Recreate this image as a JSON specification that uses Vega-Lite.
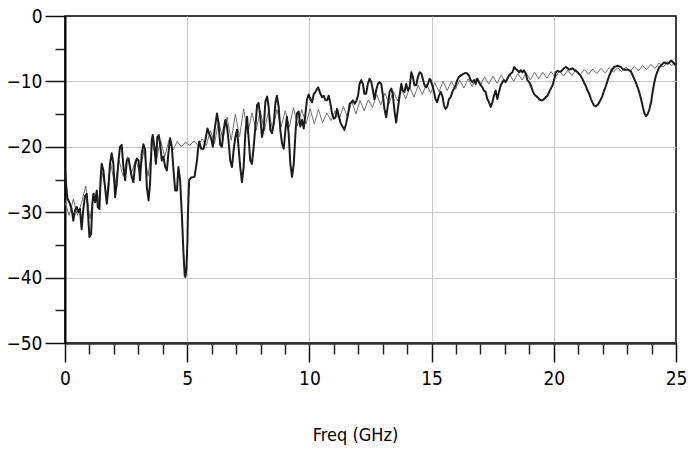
{
  "$schema": "https://vega.github.io/schema/vega-lite/v6.json",
  "width": 611,
  "height": 327,
  "autosize": "none",
  "padding": {"left": 65, "top": 16, "right": 24, "bottom": 106},
  "background": "white",
  "config": {
    "view": {"stroke": "#000000", "strokeWidth": 1.5},
    "axis": {
      "labelFont": "Liberation Sans Narrow, DejaVu Sans Condensed, sans-serif",
      "titleFont": "Liberation Sans Narrow, DejaVu Sans Condensed, sans-serif",
      "labelColor": "#000000",
      "titleColor": "#000000",
      "labelFontSize": 19,
      "titleFontSize": 18,
      "titleFontWeight": "normal",
      "labelFlush": false,
      "labelOverlap": false
    }
  },
  "datasets": {
    "measured": [
      {"f":0,"db":-23.5},{"f":0.05,"db":-26},{"f":0.10,"db":-27.9},{"f":0.18,"db":-28.5},{"f":0.27,"db":-29.5},{"f":0.34,"db":-31.3},{"f":0.41,"db":-29.7},{"f":0.48,"db":-29.2},{"f":0.55,"db":-30.0},{"f":0.61,"db":-29.5},{"f":0.68,"db":-32.6},{"f":0.75,"db":-29.5},{"f":0.82,"db":-27.5},{"f":0.89,"db":-27.2},{"f":0.96,"db":-31.3},{"f":1.00,"db":-33.8},{"f":1.07,"db":-33.3},{"f":1.12,"db":-28.7},{"f":1.16,"db":-27.2},{"f":1.23,"db":-28.5},{"f":1.30,"db":-26.7},{"f":1.34,"db":-29.2},{"f":1.41,"db":-29.5},{"f":1.46,"db":-24.6},{"f":1.50,"db":-22.6},{"f":1.57,"db":-23.6},{"f":1.64,"db":-26.2},{"f":1.71,"db":-28.7},{"f":1.78,"db":-26.2},{"f":1.84,"db":-22.6},{"f":1.91,"db":-21.0},{"f":1.98,"db":-22.6},{"f":2.05,"db":-27.7},{"f":2.12,"db":-25.6},{"f":2.19,"db":-22.1},{"f":2.25,"db":-20.0},{"f":2.32,"db":-19.7},{"f":2.39,"db":-23.1},{"f":2.46,"db":-25.1},{"f":2.53,"db":-22.1},{"f":2.60,"db":-21.8},{"f":2.66,"db":-23.1},{"f":2.73,"db":-24.6},{"f":2.80,"db":-25.4},{"f":2.87,"db":-22.6},{"f":2.94,"db":-21.8},{"f":3.01,"db":-22.1},{"f":3.07,"db":-25.1},{"f":3.14,"db":-21.0},{"f":3.21,"db":-19.6},{"f":3.28,"db":-20.5},{"f":3.35,"db":-26.2},{"f":3.42,"db":-28.2},{"f":3.48,"db":-25.6},{"f":3.55,"db":-19.0},{"f":3.59,"db":-18.2},{"f":3.66,"db":-20.0},{"f":3.72,"db":-22.6},{"f":3.78,"db":-18.5},{"f":3.84,"db":-18.2},{"f":3.89,"db":-19.5},{"f":3.96,"db":-22.1},{"f":4.03,"db":-21.5},{"f":4.10,"db":-23.1},{"f":4.17,"db":-23.6},{"f":4.23,"db":-21.0},{"f":4.30,"db":-18.7},{"f":4.37,"db":-20.0},{"f":4.44,"db":-23.6},{"f":4.51,"db":-26.7},{"f":4.58,"db":-26.7},{"f":4.64,"db":-23.1},{"f":4.71,"db":-25.1},{"f":4.78,"db":-30.3},{"f":4.85,"db":-36.4},{"f":4.90,"db":-39.8},{"f":4.93,"db":-39.9},{"f":4.97,"db":-38.5},{"f":5.01,"db":-34.4},{"f":5.03,"db":-30.3},{"f":5.08,"db":-25.1},{"f":5.16,"db":-24.7},{"f":5.30,"db":-24.6},{"f":5.40,"db":-22.1},{"f":5.44,"db":-20.5},{"f":5.49,"db":-19.2},{"f":5.57,"db":-20.3},{"f":5.67,"db":-20.3},{"f":5.74,"db":-19.0},{"f":5.83,"db":-17.2},{"f":5.90,"db":-18.0},{"f":5.98,"db":-18.7},{"f":6.05,"db":-20.0},{"f":6.12,"db":-17.4},{"f":6.22,"db":-14.9},{"f":6.28,"db":-16.4},{"f":6.35,"db":-19.7},{"f":6.42,"db":-20.0},{"f":6.49,"db":-17.4},{"f":6.56,"db":-15.9},{"f":6.63,"db":-16.9},{"f":6.69,"db":-19.0},{"f":6.76,"db":-22.1},{"f":6.83,"db":-23.1},{"f":6.90,"db":-20.5},{"f":6.97,"db":-18.5},{"f":7.04,"db":-17.4},{"f":7.10,"db":-20.0},{"f":7.17,"db":-23.1},{"f":7.24,"db":-25.4},{"f":7.31,"db":-23.1},{"f":7.38,"db":-17.9},{"f":7.45,"db":-15.4},{"f":7.51,"db":-18.5},{"f":7.58,"db":-22.1},{"f":7.65,"db":-22.6},{"f":7.72,"db":-20.0},{"f":7.79,"db":-16.9},{"f":7.86,"db":-13.6},{"f":7.92,"db":-13.3},{"f":7.99,"db":-15.4},{"f":8.06,"db":-18.5},{"f":8.13,"db":-17.2},{"f":8.20,"db":-13.1},{"f":8.27,"db":-12.3},{"f":8.33,"db":-13.8},{"f":8.40,"db":-17.4},{"f":8.47,"db":-17.9},{"f":8.54,"db":-16.4},{"f":8.61,"db":-13.3},{"f":8.67,"db":-12.2},{"f":8.74,"db":-13.8},{"f":8.81,"db":-17.4},{"f":8.88,"db":-19.5},{"f":8.95,"db":-20.3},{"f":9.02,"db":-17.4},{"f":9.08,"db":-15.4},{"f":9.15,"db":-17.9},{"f":9.22,"db":-22.6},{"f":9.29,"db":-24.6},{"f":9.36,"db":-22.6},{"f":9.43,"db":-17.9},{"f":9.49,"db":-14.9},{"f":9.56,"db":-14.6},{"f":9.63,"db":-16.9},{"f":9.70,"db":-15.9},{"f":9.77,"db":-17.2},{"f":9.84,"db":-14.9},{"f":9.90,"db":-12.8},{"f":9.97,"db":-12.0},{"f":10.04,"db":-12.7},{"f":10.11,"db":-13.2},{"f":10.18,"db":-11.9},{"f":10.25,"db":-11.6},{"f":10.36,"db":-10.9},{"f":10.45,"db":-11.9},{"f":10.52,"db":-12.4},{"f":10.59,"db":-12.2},{"f":10.66,"db":-12.9},{"f":10.72,"db":-12.9},{"f":10.79,"db":-12.2},{"f":10.86,"db":-13.4},{"f":10.93,"db":-15.0},{"f":11.00,"db":-15.7},{"f":11.07,"db":-15.5},{"f":11.13,"db":-14.2},{"f":11.20,"db":-15.2},{"f":11.27,"db":-16.3},{"f":11.34,"db":-16.8},{"f":11.43,"db":-17.4},{"f":11.50,"db":-16.5},{"f":11.58,"db":-15.0},{"f":11.65,"db":-13.4},{"f":11.72,"db":-13.2},{"f":11.78,"db":-12.9},{"f":11.86,"db":-13.4},{"f":11.93,"db":-12.9},{"f":11.99,"db":-12.2},{"f":12.05,"db":-10.4},{"f":12.12,"db":-9.8},{"f":12.19,"db":-10.4},{"f":12.25,"db":-11.9},{"f":12.32,"db":-11.9},{"f":12.39,"db":-10.4},{"f":12.46,"db":-9.6},{"f":12.53,"db":-10.1},{"f":12.60,"db":-11.4},{"f":12.66,"db":-12.7},{"f":12.73,"db":-11.4},{"f":12.80,"db":-10.4},{"f":12.87,"db":-10.1},{"f":12.94,"db":-10.4},{"f":13.01,"db":-12.2},{"f":13.07,"db":-14.2},{"f":13.14,"db":-15.5},{"f":13.21,"db":-13.7},{"f":13.28,"db":-11.6},{"f":13.35,"db":-11.1},{"f":13.41,"db":-11.9},{"f":13.48,"db":-14.5},{"f":13.55,"db":-16.3},{"f":13.62,"db":-14.2},{"f":13.69,"db":-12.2},{"f":13.76,"db":-10.4},{"f":13.82,"db":-11.4},{"f":13.89,"db":-11.6},{"f":13.96,"db":-10.4},{"f":14.03,"db":-11.4},{"f":14.10,"db":-10.9},{"f":14.17,"db":-8.6},{"f":14.23,"db":-9.3},{"f":14.30,"db":-10.6},{"f":14.37,"db":-10.6},{"f":14.44,"db":-9.3},{"f":14.51,"db":-8.6},{"f":14.58,"db":-8.8},{"f":14.64,"db":-9.6},{"f":14.71,"db":-10.6},{"f":14.78,"db":-10.9},{"f":14.85,"db":-10.4},{"f":14.92,"db":-9.6},{"f":14.96,"db":-9.8},{"f":15.03,"db":-10.6},{"f":15.10,"db":-11.6},{"f":15.16,"db":-12.7},{"f":15.23,"db":-13.2},{"f":15.30,"db":-12.2},{"f":15.37,"db":-11.6},{"f":15.44,"db":-12.2},{"f":15.51,"db":-13.7},{"f":15.57,"db":-14.2},{"f":15.64,"db":-13.9},{"f":15.71,"db":-12.7},{"f":15.78,"db":-12.4},{"f":15.85,"db":-11.6},{"f":15.92,"db":-11.1},{"f":15.98,"db":-10.6},{"f":16.05,"db":-9.8},{"f":16.12,"db":-9.3},{"f":16.23,"db":-9.0},{"f":16.33,"db":-8.8},{"f":16.39,"db":-8.7},{"f":16.46,"db":-8.8},{"f":16.53,"db":-9.1},{"f":16.60,"db":-9.8},{"f":16.67,"db":-10.1},{"f":16.74,"db":-9.8},{"f":16.80,"db":-10.4},{"f":16.87,"db":-9.6},{"f":16.94,"db":-10.1},{"f":17.01,"db":-10.6},{"f":17.08,"db":-10.9},{"f":17.14,"db":-11.4},{"f":17.21,"db":-11.6},{"f":17.28,"db":-12.7},{"f":17.35,"db":-13.2},{"f":17.42,"db":-13.9},{"f":17.49,"db":-13.2},{"f":17.55,"db":-12.2},{"f":17.62,"db":-11.4},{"f":17.69,"db":-12.7},{"f":17.76,"db":-11.6},{"f":17.83,"db":-10.6},{"f":17.90,"db":-10.1},{"f":17.96,"db":-9.8},{"f":18.03,"db":-10.1},{"f":18.10,"db":-9.6},{"f":18.17,"db":-9.1},{"f":18.24,"db":-8.8},{"f":18.31,"db":-8.6},{"f":18.38,"db":-7.8},{"f":18.44,"db":-8.1},{"f":18.51,"db":-8.3},{"f":18.58,"db":-8.6},{"f":18.65,"db":-8.3},{"f":18.72,"db":-8.6},{"f":18.78,"db":-8.3},{"f":18.85,"db":-8.8},{"f":18.92,"db":-9.8},{"f":18.99,"db":-10.1},{"f":19.06,"db":-10.6},{"f":19.13,"db":-11.4},{"f":19.19,"db":-11.9},{"f":19.26,"db":-12.2},{"f":19.33,"db":-12.4},{"f":19.40,"db":-12.7},{"f":19.47,"db":-12.9},{"f":19.54,"db":-12.9},{"f":19.60,"db":-12.7},{"f":19.67,"db":-12.4},{"f":19.74,"db":-12.2},{"f":19.81,"db":-11.6},{"f":19.88,"db":-11.1},{"f":19.95,"db":-10.6},{"f":20.01,"db":-9.8},{"f":20.08,"db":-8.6},{"f":20.15,"db":-8.4},{"f":20.22,"db":-8.5},{"f":20.29,"db":-8.5},{"f":20.36,"db":-8.2},{"f":20.42,"db":-8.0},{"f":20.49,"db":-7.8},{"f":20.56,"db":-8.0},{"f":20.63,"db":-8.2},{"f":20.70,"db":-8.1},{"f":20.76,"db":-8.0},{"f":20.83,"db":-8.2},{"f":20.90,"db":-8.4},{"f":20.97,"db":-8.6},{"f":21.04,"db":-8.9},{"f":21.11,"db":-9.2},{"f":21.17,"db":-9.6},{"f":21.24,"db":-10.2},{"f":21.31,"db":-10.7},{"f":21.38,"db":-11.4},{"f":21.45,"db":-11.9},{"f":21.52,"db":-12.7},{"f":21.58,"db":-13.2},{"f":21.65,"db":-13.7},{"f":21.72,"db":-13.8},{"f":21.79,"db":-13.6},{"f":21.86,"db":-13.2},{"f":21.93,"db":-12.7},{"f":21.99,"db":-12.2},{"f":22.06,"db":-11.4},{"f":22.13,"db":-10.7},{"f":22.20,"db":-9.9},{"f":22.27,"db":-9.1},{"f":22.34,"db":-8.5},{"f":22.40,"db":-8.1},{"f":22.47,"db":-7.8},{"f":22.54,"db":-7.7},{"f":22.61,"db":-7.6},{"f":22.68,"db":-7.7},{"f":22.75,"db":-7.8},{"f":22.81,"db":-8.1},{"f":22.88,"db":-8.2},{"f":22.95,"db":-8.2},{"f":23.02,"db":-8.2},{"f":23.09,"db":-8.3},{"f":23.16,"db":-8.5},{"f":23.22,"db":-9.0},{"f":23.29,"db":-9.6},{"f":23.36,"db":-10.2},{"f":23.43,"db":-10.9},{"f":23.50,"db":-11.7},{"f":23.57,"db":-12.7},{"f":23.63,"db":-13.7},{"f":23.70,"db":-14.8},{"f":23.77,"db":-15.3},{"f":23.84,"db":-15.0},{"f":23.91,"db":-14.3},{"f":23.98,"db":-13.2},{"f":24.04,"db":-11.7},{"f":24.11,"db":-10.2},{"f":24.18,"db":-9.1},{"f":24.25,"db":-8.4},{"f":24.32,"db":-7.8},{"f":24.39,"db":-7.6},{"f":24.45,"db":-7.3},{"f":24.52,"db":-7.1},{"f":24.59,"db":-7.2},{"f":24.66,"db":-7.3},{"f":24.73,"db":-7.1},{"f":24.80,"db":-6.8},{"f":24.86,"db":-7.0},{"f":24.93,"db":-7.3},{"f":25.00,"db":-7.6}
    ],
    "simulated": [
      {"f":0.00,"db":-28.5},{"f":0.17,"db":-30.5},{"f":0.34,"db":-28.0},{"f":0.51,"db":-30.5},{"f":0.68,"db":-28.5},{"f":0.85,"db":-26.0},{"f":1.02,"db":-31.0},{"f":1.19,"db":-27.0},{"f":1.36,"db":-28.5},{"f":1.53,"db":-24.0},{"f":1.70,"db":-27.5},{"f":1.87,"db":-22.5},{"f":2.04,"db":-26.0},{"f":2.21,"db":-22.0},{"f":2.38,"db":-24.5},{"f":2.55,"db":-21.5},{"f":2.72,"db":-24.0},{"f":2.89,"db":-22.0},{"f":3.06,"db":-24.0},{"f":3.23,"db":-20.5},{"f":3.40,"db":-24.5},{"f":3.57,"db":-19.5},{"f":3.74,"db":-22.0},{"f":3.91,"db":-19.0},{"f":4.08,"db":-21.5},{"f":4.25,"db":-19.0},{"f":4.42,"db":-20.5},{"f":4.59,"db":-19.2},{"f":4.76,"db":-20.0},{"f":4.93,"db":-19.3},{"f":5.10,"db":-19.8},{"f":5.27,"db":-19.1},{"f":5.44,"db":-19.8},{"f":5.61,"db":-18.8},{"f":5.78,"db":-19.8},{"f":5.95,"db":-17.5},{"f":6.12,"db":-19.5},{"f":6.29,"db":-16.0},{"f":6.46,"db":-19.0},{"f":6.63,"db":-15.5},{"f":6.80,"db":-19.0},{"f":6.97,"db":-15.0},{"f":7.14,"db":-18.5},{"f":7.31,"db":-14.2},{"f":7.48,"db":-18.0},{"f":7.65,"db":-14.8},{"f":7.82,"db":-17.5},{"f":7.99,"db":-14.5},{"f":8.16,"db":-17.5},{"f":8.33,"db":-14.5},{"f":8.50,"db":-17.5},{"f":8.67,"db":-14.3},{"f":8.84,"db":-17.0},{"f":9.01,"db":-14.5},{"f":9.18,"db":-17.0},{"f":9.35,"db":-14.0},{"f":9.52,"db":-16.8},{"f":9.69,"db":-14.3},{"f":9.86,"db":-16.5},{"f":10.03,"db":-14.2},{"f":10.20,"db":-16.5},{"f":10.37,"db":-14.3},{"f":10.54,"db":-16.3},{"f":10.71,"db":-14.8},{"f":10.88,"db":-16.0},{"f":11.05,"db":-14.5},{"f":11.22,"db":-15.8},{"f":11.39,"db":-13.8},{"f":11.56,"db":-15.5},{"f":11.73,"db":-13.0},{"f":11.90,"db":-15.0},{"f":12.07,"db":-12.9},{"f":12.24,"db":-14.5},{"f":12.41,"db":-12.8},{"f":12.58,"db":-14.0},{"f":12.75,"db":-12.0},{"f":12.92,"db":-13.6},{"f":13.09,"db":-11.8},{"f":13.26,"db":-13.4},{"f":13.43,"db":-11.5},{"f":13.60,"db":-13.0},{"f":13.77,"db":-11.2},{"f":13.94,"db":-12.7},{"f":14.11,"db":-10.9},{"f":14.28,"db":-12.4},{"f":14.45,"db":-10.6},{"f":14.62,"db":-12.0},{"f":14.79,"db":-10.4},{"f":14.96,"db":-11.8},{"f":15.13,"db":-10.2},{"f":15.30,"db":-11.6},{"f":15.47,"db":-10.0},{"f":15.64,"db":-11.4},{"f":15.81,"db":-10.0},{"f":15.98,"db":-11.2},{"f":16.15,"db":-9.8},{"f":16.32,"db":-11.0},{"f":16.49,"db":-9.6},{"f":16.66,"db":-10.8},{"f":16.83,"db":-9.5},{"f":17.00,"db":-10.6},{"f":17.17,"db":-9.3},{"f":17.34,"db":-10.4},{"f":17.51,"db":-9.2},{"f":17.68,"db":-10.3},{"f":17.85,"db":-9.0},{"f":18.02,"db":-10.2},{"f":18.19,"db":-8.9},{"f":18.36,"db":-10.0},{"f":18.53,"db":-8.8},{"f":18.70,"db":-9.8},{"f":18.87,"db":-8.7},{"f":19.04,"db":-9.8},{"f":19.21,"db":-8.6},{"f":19.38,"db":-9.6},{"f":19.55,"db":-8.6},{"f":19.72,"db":-9.5},{"f":19.89,"db":-8.5},{"f":20.06,"db":-9.4},{"f":20.23,"db":-8.4},{"f":20.40,"db":-9.2},{"f":20.57,"db":-8.3},{"f":20.74,"db":-9.1},{"f":20.91,"db":-8.2},{"f":21.08,"db":-9.0},{"f":21.25,"db":-8.2},{"f":21.42,"db":-8.9},{"f":21.59,"db":-8.1},{"f":21.76,"db":-8.8},{"f":21.93,"db":-8.0},{"f":22.10,"db":-8.7},{"f":22.27,"db":-7.9},{"f":22.44,"db":-8.6},{"f":22.61,"db":-7.9},{"f":22.78,"db":-8.5},{"f":22.95,"db":-7.8},{"f":23.12,"db":-8.5},{"f":23.29,"db":-7.7},{"f":23.46,"db":-8.4},{"f":23.63,"db":-7.6},{"f":23.80,"db":-8.2},{"f":23.97,"db":-7.4},{"f":24.14,"db":-8.0},{"f":24.31,"db":-7.2},{"f":24.48,"db":-7.8},{"f":24.65,"db":-7.0},{"f":24.82,"db":-7.6},{"f":24.99,"db":-7.0}
    ]
  },
  "layer": [
    {
      "data": {"name": "simulated"},
      "mark": {"type": "line", "color": "#707070", "strokeWidth": 1, "clip": true},
      "encoding": {
        "x": {
          "field": "f", "type": "quantitative",
          "scale": {"domain": [0, 25], "nice": false, "zero": false},
          "axis": {
            "orient": "bottom",
            "values": [1,2,3,4,6,7,8,9,11,12,13,14,16,17,18,19,21,22,23,24],
            "labels": false, "grid": false, "domain": false, "title": null,
            "tickSize": 11, "tickColor": "#222222", "tickWidth": 1.5
          }
        },
        "y": {
          "field": "db", "type": "quantitative",
          "scale": {"domain": [-50, 0], "nice": false, "zero": false},
          "axis": {
            "orient": "left",
            "values": [-5, -15, -25, -35, -45],
            "labels": false, "grid": false, "domain": false, "title": null,
            "tickSize": 10, "tickColor": "#222222", "tickWidth": 1.5
          }
        }
      }
    },
    {
      "data": {"name": "measured"},
      "mark": {"type": "line", "color": "#1c1c1c", "strokeWidth": 2, "strokeJoin": "round", "clip": true},
      "encoding": {
        "x": {
          "field": "f", "type": "quantitative",
          "axis": {
            "orient": "bottom",
            "values": [0, 5, 10, 15, 20, 25],
            "grid": true,
            "gridColor": {"condition": {"test": "datum.value === 0 || datum.value === 25", "value": "transparent"}, "value": "#c8c8c8"},
            "gridWidth": 1,
            "tickSize": 19, "tickColor": "#111111", "tickWidth": 1.5,
            "domainColor": "#333333", "domainWidth": 2.5,
            "labelPadding": 7,
            "title": "Freq (GHz)",
            "titleX": 290, "titleY": 97, "titleBaseline": "alphabetic", "titleAnchor": "middle", "titleAlign": "center"
          }
        },
        "y": {
          "field": "db", "type": "quantitative",
          "axis": {
            "orient": "left",
            "values": [0, -10, -20, -30, -40, -50],
            "grid": true,
            "gridColor": {"condition": {"test": "datum.value === 0 || datum.value === -50", "value": "transparent"}, "value": "#c8c8c8"},
            "gridWidth": 1,
            "tickSize": 20, "tickColor": "#111111", "tickWidth": 1.5,
            "domainColor": "#000000", "domainWidth": 2,
            "labelPadding": 3,
            "title": null
          }
        }
      }
    }
  ],
  "resolve": {"axis": {"x": "independent", "y": "independent"}}
}
